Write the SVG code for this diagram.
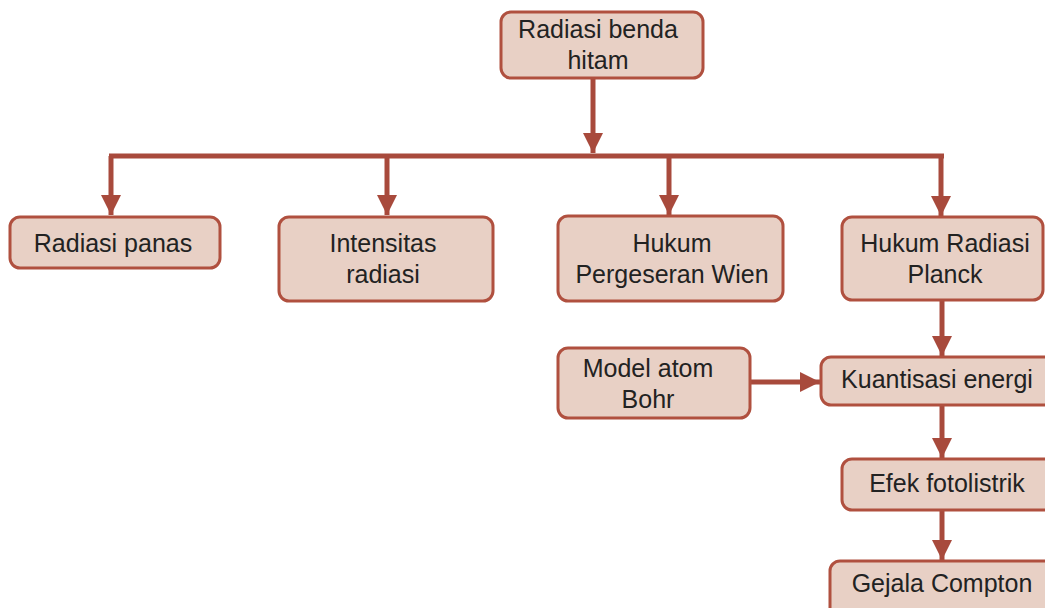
<svg xmlns="http://www.w3.org/2000/svg" width="1045" height="608" viewBox="0 0 1045 608">
<style>
.box{fill:#e8d0c5;stroke:#b0503f;stroke-width:3}
.t{font-family:"Liberation Sans",Arial,sans-serif;font-size:25px;fill:#222;text-anchor:middle}
.c{stroke:#a84a3c;stroke-width:5;fill:none}
</style>
<defs>
<marker id="ah" viewBox="0 0 10 10" refX="10" refY="5" markerWidth="4" markerHeight="4" markerUnits="strokeWidth" orient="auto">
<path d="M0,0 L10,5 L0,10 z" fill="#a84a3c"/>
</marker>
</defs>
<g id="connectors">
<path class="c" d="M593,78 V153" marker-end="url(#ah)"/>
<path class="c" d="M109,156 H944"/>
<path class="c" d="M111,156 V215" marker-end="url(#ah)"/>
<path class="c" d="M387,156 V215" marker-end="url(#ah)"/>
<path class="c" d="M669,156 V215" marker-end="url(#ah)"/>
<path class="c" d="M941,156 V216" marker-end="url(#ah)"/>
<path class="c" d="M942,300 V356" marker-end="url(#ah)"/>
<path class="c" d="M750,382 H820" marker-end="url(#ah)"/>
<path class="c" d="M942,405 V458" marker-end="url(#ah)"/>
<path class="c" d="M942,510 V560" marker-end="url(#ah)"/>
</g>
<g id="n-radiasi-benda-hitam"><rect class="box" x="501" y="12" width="202" height="66" rx="10"/><text class="t" x="598" y="38">Radiasi benda</text><text class="t" x="598" y="69">hitam</text></g>
<g id="n-radiasi-panas"><rect class="box" x="10" y="217" width="210" height="51" rx="10"/><text class="t" x="113" y="252">Radiasi panas</text></g>
<g id="n-intensitas"><rect class="box" x="279" y="217" width="214" height="84" rx="10"/><text class="t" x="383" y="252">Intensitas</text><text class="t" x="383" y="283">radiasi</text></g>
<g id="n-wien"><rect class="box" x="558" y="216" width="225" height="85" rx="10"/><text class="t" x="672" y="252">Hukum</text><text class="t" x="672" y="283">Pergeseran Wien</text></g>
<g id="n-planck"><rect class="box" x="842" y="217" width="201" height="83" rx="10"/><text class="t" x="945" y="252">Hukum Radiasi</text><text class="t" x="945" y="283">Planck</text></g>
<g id="n-bohr"><rect class="box" x="558" y="348" width="192" height="70" rx="10"/><text class="t" x="648" y="377">Model atom</text><text class="t" x="648" y="408">Bohr</text></g>
<g id="n-kuantisasi"><rect class="box" x="821" y="357" width="240" height="48" rx="10"/><text class="t" x="937" y="388">Kuantisasi energi</text></g>
<g id="n-efek"><rect class="box" x="842" y="459" width="220" height="51" rx="10"/><text class="t" x="947" y="492">Efek fotolistrik</text></g>
<g id="n-compton"><rect class="box" x="830" y="561" width="230" height="60" rx="10"/><text class="t" x="942" y="592">Gejala Compton</text></g>
</svg>
